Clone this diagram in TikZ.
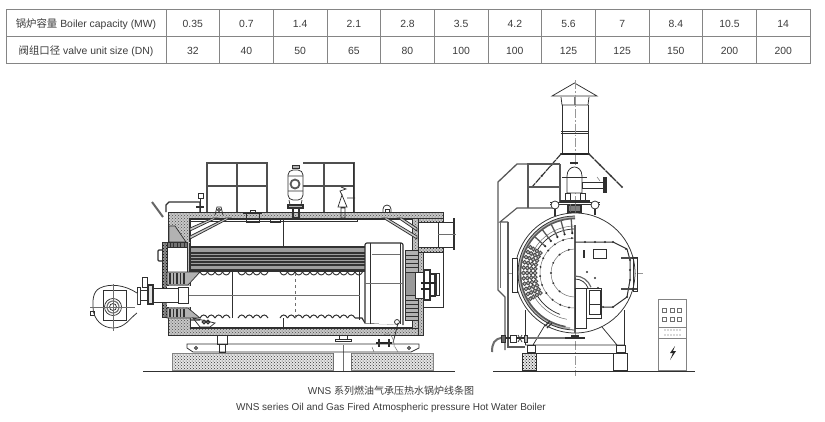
\documentclass[tikz,border=0pt]{standalone}
\usepackage{fontspec}
\setmainfont{Liberation Sans}
\newfontfamily\cjk{Noto Sans CJK SC}
\usetikzlibrary{patterns}
\definecolor{ink}{HTML}{303030}
\definecolor{rule}{HTML}{858585}
\definecolor{txt}{HTML}{3C3C3C}
\tikzset{
  hair/.style={draw=ink!70,line width=.5pt},
  thinl/.style={draw=ink,line width=.75pt},
  medl/.style={draw=ink,line width=1.15pt},
  heavy/.style={draw=black!85,line width=1.6pt},
  axisl/.style={draw=ink!50,line width=.4pt,dash pattern=on 9pt off 2pt on 1.5pt off 2pt},
  ins/.style={preaction={fill=black!22},pattern=crosshatch dots,pattern color=black!70,draw=ink,line width=.7pt},
  brick/.style={fill=black!30,draw=ink,line width=.7pt},
  conc/.style={preaction={fill=black!10},pattern=crosshatch dots,pattern color=black!80,draw=ink!60,line width=.4pt},
  cell/.style={text=txt,font=\fontsize{10.4}{12}\selectfont,inner sep=0pt,anchor=base},
  captext/.style={text=txt,font=\fontsize{10}{12}\selectfont,inner sep=0pt,anchor=base},
  rivet/.style={fill=black!80,draw=none},
}
\begin{document}
\begin{tikzpicture}[x=1pt,y=-1pt]
\useasboundingbox (0,0) rectangle (825,421);
\fill[white] (0,0) rectangle (825,421);
% ---------- table
\draw[rule,line width=.8pt] (6,9) rectangle (810,63);
\draw[rule,line width=.8pt] (6,36) -- (810,36);
\foreach \i in {0,...,11} \draw[rule,line width=.8pt] ({166+53.67*\i},9) -- ({166+53.67*\i},63);
\node[cell] (h1) at (86,27) {{\cjk 锅炉容量} Boiler capacity (MW)};
\node[cell] (h2) at (86,54) {{\cjk 阀组口径} valve unit size (DN)};
\foreach \v [count=\i from 0] in {0.35,0.7,1.4,2.1,2.8,3.5,4.2,5.6,7,8.4,10.5,14}
  \node[cell] (a\i) at ({192.8+53.67*\i},27) {\v};
\foreach \v [count=\i from 0] in {32,40,50,65,80,100,100,125,125,150,200,200}
  \node[cell] (b\i) at ({192.8+53.67*\i},54) {\v};
% ---------- caption
\node[captext] (c1) at (391,394) {WNS {\cjk 系列燃油气承压热水锅炉线条图}};
\node[captext] (c2) at (391,410.5) {WNS series Oil and Gas Fired Atmospheric pressure Hot Water Boiler};
% ========== LEFT VIEW
% foundation and ground
\draw[conc] (172,353) rectangle (333,370);
\draw[conc] (351,353) rectangle (433,370);
\draw[thinl] (143,371) -- (455,371);
\draw[hair] (333,353)--(333,370) (351,353)--(351,370) (343,345)--(343,371);
% rail and feet
\draw[thinl] (187,344) -- (419,344) -- (419,348) -- (411,352) -- (193,352) -- (187,348) -- cycle;
\draw[thinl] (196,348) circle[radius=1.5] (409,348) circle[radius=1.5];
\draw[thinl] (217,335) rectangle (227,344) (219,344) rectangle (225,352);
\draw[thinl] (339,328) rectangle (347,339) (335,339) rectangle (351,341);
% railings
\draw[medl,draw=ink!85] (207,212) -- (207,163) -- (267,163) -- (267,212);
\draw[medl,draw=ink!85] (207,186) -- (267,186) (237,163) -- (237,212);
\draw[medl,draw=ink!85] (303,163) -- (354,163) -- (354,212) (303,186) -- (354,186) (324,163) -- (324,212);
\draw[thinl] (353,163) -- (353,212);
% shell insulation
\fill[white] (168,212) rectangle (443,335);
\draw[ins] (168,212) -- (443,212) -- (443,218) -- (190,218) -- (190,328) -- (423,328) -- (423,335) -- (168,335) -- cycle;
\draw[ins] (412,218) rectangle (418,328);
\draw[ins] (418,252) rectangle (423,335);
\draw[medl] (190,219) -- (412,219) (190,328) -- (412,328) (190,218) -- (190,242);
\draw[thinl] (190,221) -- (357,221) -- (357,218);
\draw[brick] (169,226) -- (175,226) -- (186,242) -- (169,242) -- cycle;
% stays
\draw[thinl,fill=black!20] (190,228) -- (213,218) -- (217,218) -- (190,231) -- cycle;
\draw[thinl,fill=black!20] (190,236) -- (226,218) -- (230,218) -- (190,239) -- cycle;
\draw[thinl,fill=black!20] (383,218) -- (387,218) -- (417,236) -- (417,239) -- cycle;
\draw[thinl,fill=black!20] (398,218) -- (402,218) -- (417,228) -- (417,231) -- cycle;
% tube bank
\fill[black!38] (190,247) rectangle (365,270);
\foreach \y in {247,253,256,259,262,265,270} \draw[medl,draw=black!80] (190,\y) -- (365,\y);
\draw[medl] (187,242) -- (187,272) (190,243) -- (190,272);
% furnace
\draw[medl] (190,271) -- (365,271);
\foreach \x in {200,207.5,215,222.5,238,245.5,253,260.5,280,287.5,295,302.5,310,317.5,325,332.5,340,347.5,355}
 \draw[thinl,line width=.9pt] (\x,272) .. controls ({\x+2},276) and ({\x+5.5},276) .. ({\x+7.5},272);
\foreach \x in {200,207.5,215,222.5,238,245.5,253,260.5,280,287.5,295,302.5,310,317.5,325,332.5,340,347.5}
 \draw[thinl,line width=1pt] (\x,318) .. controls ({\x+2},314) and ({\x+5.5},314) .. ({\x+7.5},318);
\draw[medl] (190,320) -- (200,320) (355,318) -- (362,318) -- (365,323) -- (398,324);
\draw[thinl] (232,272) -- (232,318) (283,218) -- (283,247) (283,318) -- (283,328) (359,272) -- (359,320);
\draw[hair,dashed] (295,273) -- (295,318);
% rear chamber
\draw[medl,fill=white,rounded corners=2pt] (365,323) -- (365,243) -- (403,243) -- (403,325);
\draw[thinl] (370,243) -- (370,324) (400,243) -- (400,324);
\draw[hair] (372,254) -- (400,254) (365,283) -- (403,283);
% rear bricks and door
\draw[brick] (405,250) rectangle (418,272) (405,295) rectangle (418,320);
\foreach \y in {255,259,263,267,300,304,308,312,316} \draw[thinl] (405,\y) -- (418,\y);
\draw[thinl,fill=black!40] (405,272) rectangle (415,295);
\draw[thinl] (423,307) -- (443,307) -- (443,252);
\draw[thinl,fill=white] (415,272) rectangle (424,298);
\draw[medl] (424,270) rectangle (430,300) (430,274) rectangle (435,296) (436,273) -- (436,295);
\draw[heavy,line width=1.4pt] (421,283) -- (436,283) (421,289) -- (430,289);
\draw[thinl] (430,273) -- (440,273) (430,295) -- (440,295) (439,273) -- (439,295);
% flue outlet
\draw[thinl] (438,222) rectangle (453,247);
\draw[medl] (454,218) -- (454,250);
\draw[hair] (438,234) -- (456,234);
\draw[ins,pattern color=black!85] (418,218) rectangle (443,222) (418,247) rectangle (443,252);
% front door and refractory
\draw[ins,pattern color=black,preaction={fill=black!45}] (162,242) rectangle (167,317);
\draw[thinl,fill=white] (167,247) rectangle (187,272);
\draw[brick,fill=black!55] (167,242) rectangle (187,247);
\draw[brick] (167,272) -- (200,272) -- (188,285) -- (167,285) -- cycle;
\draw[brick] (167,308) -- (188,308) -- (200,318) -- (167,318) -- cycle;
\foreach \x in {170,173.5,177,180.5,184} {\draw[medl] (\x,273) -- (\x,284); \draw[medl] (\x,309) -- (\x,317); \draw[medl,line width=.8pt] (\x,242) -- (\x,247);}
\draw[medl,rounded corners=1pt] (162,250) -- (158,250) -- (158,261) -- (162,261);
\fill[white] (167,286) rectangle (200,307);
% burner
\draw[hair] (188,295) -- (360,295);
\fill[white] (153,288) rectangle (188,303);
\draw[thinl] (153,288) rectangle (178,302) (178,287) rectangle (188,303);
\draw[medl,fill=black!12] (148,285) rectangle (153,304);
\draw[thinl] (140,290) rectangle (148,300);
\draw[thinl,fill=white] (137,287) rectangle (140,304);
\draw[thinl] (142,277) rectangle (147,287);
\draw[thinl,fill=white] (137,293) .. controls (125,285) and (110,283) .. (100,288) .. controls (92,292) and (93,302) .. (93,307) .. controls (93,320) and (103,328) .. (113,328) .. controls (125,328) and (130,318) .. (137,313);
\draw[thinl] (103,290) rectangle (126,320);
\draw[thinl] (113,307) circle[radius=8.5];
\draw[medl,draw=black!55] (113,307) circle[radius=6];
\draw[thinl] (113,307) circle[radius=3.5];
\draw[thinl] (90,311) rectangle (94,315);
\draw[hair] (90,307) -- (135,307) (113,284) -- (113,331);
% details on top
\draw[heavy,line width=2pt,draw=black!60] (152,202) -- (163,217);
\draw[medl] (166,212) -- (166,205) -- (169,202) -- (200,202) -- (200,212);
\draw[thinl] (198,193) rectangle (203,198) (200,198) -- (200,212);
\draw[medl] (196,207) -- (204,207);
\draw[thinl] (215,215) -- (217,207) -- (221,207) -- (223,215);
\draw[thinl] (219,210) circle[radius=1.5];
\draw[thinl] (243,213) -- (262,213) (246,213) rectangle (259,222) (250,210) rectangle (255,213);
\draw[thinl] (270,219) rectangle (280,222);
% tank
\draw[medl] (293,208) rectangle (299,218);
\draw[medl,fill=black!30] (288,205) rectangle (303,208);
\draw[thinl,fill=white,rounded corners=5pt] (288,170) -- (288,200) -- (303,200) -- (303,170) -- cycle;
\draw[thinl] (288,176) -- (303,176) (288,191) -- (303,191) (289,200) -- (290,205) (302,200) -- (301,205);
\draw[medl,draw=black!65,line width=1.8pt] (295,184) circle[radius=4.5];
\draw[thinl,fill=black!30] (292,165) rectangle (299,168);
% relief valve and dome
\draw[thinl] (342,195) -- (338,207) -- (347,207) -- cycle (341,208) rectangle (345,218) (347,198) -- (355,198);
\draw[thinl] (342,195) -- (340,191) -- (346,189) -- (341,187);
\draw[thinl] (383,212) -- (383,209) arc[start angle=180,end angle=360,radius=4] -- (391,212);
\draw[thinl] (385,212) rectangle (389,209);
% bottom valve
\draw[heavy] (376,343) -- (392,343);
\draw[medl] (379,339) -- (379,347) (389,339) -- (389,347);
\draw[thinl] (398,323) -- (393,343) (397,322) circle[radius=2.5];
\draw[hair] (372,347) -- (374,352) (395,347) -- (398,352) (384,335) .. controls (390,330) and (395,340) .. (394,347);
% lower-left manhole
\draw[thinl] (193,318) -- (215,323) -- (210,327) -- (200,327) -- cycle;
\draw[medl] (204,322) circle[radius=1.8] (208,322) circle[radius=1.8];
% ========== RIGHT VIEW
% axis
\draw[axisl] (575,80) -- (575,376);
\draw[axisl] (507,273) -- (643,273);
% ground & foundation
\draw[thinl] (493,371) -- (695,371);
\draw[conc,draw=ink,pattern color=black] (522,353) rectangle (536,370);
\draw[thinl] (613,353) rectangle (627,370) (536,353) -- (613,353);
\draw[thinl] (527,345) rectangle (535,352) (616,345) rectangle (625,352);
\draw[thinl] (525,310) -- (525,345) (624,310) -- (624,345);
\draw[thinl] (525,345) -- (624,345) (548,320) -- (533,345) (602,327) -- (617,345);
\draw[medl,draw=black!55,line width=1.8pt] (527,338) -- (575,338);
\draw[medl] (565,338) -- (585,338) (571,336) -- (579,336);
% chimney
\draw[thinl,fill=white] (552,96) -- (574.5,83) -- (597,96) -- cycle;
\draw[thinl] (561,97) -- (562,105) -- (588,105) -- (589,97);
\draw[thinl] (562,105) -- (562,154) (588,105) -- (588,154);
\draw[thinl] (561,131) -- (589,131) (561,133) -- (589,133);
\fill[black!55] (573.5,97) rectangle (576,105);
\draw[axisl] (575,80) -- (575,200);
% stays
\draw[heavy] (561,154) -- (589,154);
\draw[thinl,line width=1.1pt,dash pattern=on 7pt off .8pt] (589,154) -- (622,187);
\draw[thinl,line width=1.1pt,dash pattern=on 7pt off .8pt] (561,154) -- (532,187);
\foreach \t in {0,.33,.66,1} {\fill[black!80] ({589+33*\t},{154+33*\t}) circle[radius=1.2]; \fill[black!80] ({561-29*\t},{154+33*\t}) circle[radius=1.2];}
% frame and duct
\draw[medl,draw=ink!80] (560,164) -- (528,164) -- (528,208) (528,187) -- (560,187) (560,164) -- (560,202);
\draw[medl,draw=ink!80,line width=1.3pt] (528,164) -- (517,164) -- (498,182) -- (498,290) -- (505,297) -- (505,350);
\draw[medl,draw=ink!80] (553,208) -- (517,208) -- (500,222) -- (508,222);
\draw[medl,draw=ink!80] (508,222) -- (508,347) -- (525,347);
\draw[hair] (500,222) -- (500,288);
% tank
\draw[thinl,fill=white] (567,193) -- (567,176) .. controls (567,170) and (571,167) .. (574.5,167) .. controls (578,167) and (582,170) .. (582,176) -- (582,193) -- cycle;
\draw[thinl] (562,177) -- (587,177);
\draw[thinl,fill=white] (582,182) rectangle (604,188);
\draw[medl,fill=black!35] (604,178) rectangle (606,192);
\draw[thinl] (565,193) rectangle (570,200) (580,193) rectangle (585,200);
\draw[medl] (570,163) -- (578,163);
\draw[hair] (597,177) -- (600,181);
% base
\draw[medl] (560,201) -- (590,201);
\draw[thinl] (550,202) -- (600,202) (550,204) -- (600,204);
\draw[thinl,fill=white] (555,205) circle[radius=4] (595,205) circle[radius=4];
\draw[medl] (555,209) -- (555,216) (595,209) -- (595,215);
\draw[medl,fill=black!50] (568,205) rectangle (581,212);
\draw[hair] (570,204) -- (570,212) (575,204) -- (575,213);
% shell
\draw[thinl,fill=white] (575,273) circle[radius=60];
\draw[draw=black!30,line width=2.6pt] (575,273) ++(95:55.8) arc[start angle=95,end angle=270,radius=55.8];
\draw[thinl] (575,273) ++(90:57) arc[start angle=90,end angle=270,radius=57];
\draw[medl,draw=black!65,line width=1.6pt] (575,273) ++(100:54.5) arc[start angle=100,end angle=270,radius=54.5];
\draw[hair] (575,273) ++(100:47) arc[start angle=100,end angle=270,radius=47];
\draw[thinl] (575,273) ++(110:44) arc[start angle=110,end angle=270,radius=44];
\draw[hair] (575,273) ++(90:35) arc[start angle=90,end angle=270,radius=35];
\draw[hair] (575,273) ++(90:24) arc[start angle=90,end angle=270,radius=24];
% fins
\foreach \a in {222,233,244,255,266} {
  \draw[medl,draw=black!65,line width=1.3pt] ({575+40*cos(\a)},{273+40*sin(\a)}) -- ({575+54*cos(\a)},{273+54*sin(\a)});
  \fill[black!85] ({575+40*cos(\a)},{273+40*sin(\a)}) circle[radius=1.2];}
% tube bank
\foreach \a in {150,156,...,214} \foreach \r in {40,44,48,51.5}
  \draw[draw=black!70,line width=.9pt,fill=black!25] ({575+\r*cos(\a)},{273+\r*sin(\a)}) circle[radius=1.9];
% rivets
\foreach \a in {100,115,130,145,160,175,190,205,220,235,250,265} \fill[rivet] ({575+35*cos(\a)},{273+35*sin(\a)}) circle[radius=1.1];
\foreach \a in {130,155,180,205,230,255} \fill[rivet] ({575+24*cos(\a)},{273+24*sin(\a)}) circle[radius=1.1];
\draw[medl,draw=black!65] (575,225) -- (575,333);
% right half plate
\draw[thinl,line width=1pt] (575,242) -- (613,242) -- (627,249) -- (630,260) -- (630,280) -- (627,297) -- (613,307) -- (603,307);
\foreach \p in {(585,242),(595,242),(605,242),(613,242),(626,249),(630,260),(630,270),(630,280),(627,297),(613,307),(603,307)} \fill[rivet] \p circle[radius=1.2];
\draw[thinl] (593,249) rectangle (606,258);
\draw[medl] (584,250) -- (584,258);
\draw[medl,draw=black!70] (621,258) -- (637,258) (621,289) -- (637,289);
\draw[thinl] (633,257) rectangle (637,291);
\fill[rivet] (633,258) circle[radius=1.4] (633,289) circle[radius=1.4];
% centre box
\draw[thinl,fill=white] (575,288) rectangle (586,328);
\draw[thinl,fill=white] (586,288) rectangle (601,318);
\draw[thinl] (589,290) rectangle (600,304) (589,304) rectangle (600,314);
\draw[medl,draw=black!60] (575,276) arc[start angle=270,end angle=340,radius=17];
\draw[thinl] (575,279) arc[start angle=270,end angle=340,radius=14];
\fill[rivet] (587,272) circle[radius=1.2] (595,278) circle[radius=1.2] (598,288) circle[radius=1.2];
% side box
\draw[thinl,fill=white] (512,258) -- (517,258) -- (517,292) -- (512,292) -- cycle;
% drain valve on ring
\draw[medl,draw=black!80] (545,326) -- (550,321) (547,328) -- (552,323);
% bottom pipework
\draw[thinl,line width=2pt,draw=ink!70] (492,352) .. controls (492,344) and (494,338) .. (503,338);
\draw[medl] (503,338) -- (527,338);
\draw[thinl,fill=black!60] (501,335) rectangle (505,342);
\draw[thinl,fill=white] (510,335) rectangle (516,342);
\draw[thinl] (518,335) -- (522,342) (522,335) -- (518,342);
\draw[thinl,fill=black!30] (524,335) rectangle (527,342);
% control cabinet
\draw[thinl,draw=ink!60] (658,299) rectangle (686,370) (658,327) -- (686,327) (658,338) -- (686,338);
\foreach \x in {662,670,677} \foreach \y in {308,317} \draw[thinl,draw=ink!70] (\x,\y) rectangle ({\x+4},{\y+4});
\foreach \x in {665,668,671,674,677,680} \foreach \y in {330,335} \fill[ink!80] (\x,\y) circle[radius=.7];
\fill[black!85] (675,346) -- (670,353) -- (673,353) -- (670,360) -- (676,351) -- (673,351) -- cycle;
\end{tikzpicture}
\end{document}
